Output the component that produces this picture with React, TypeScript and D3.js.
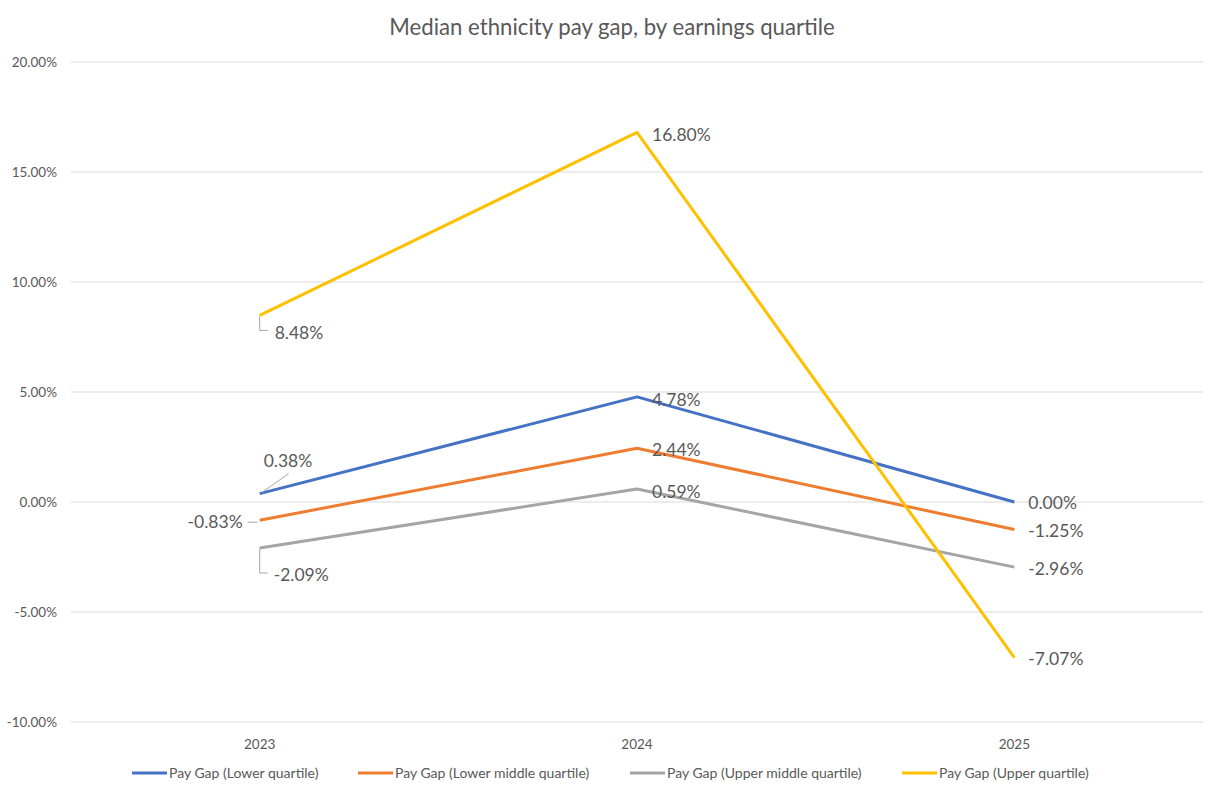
import React from "react";
import * as d3 from "d3";

const years = ["2023", "2024", "2025"];
const seriesNames = [
  "Pay Gap (Lower quartile)",
  "Pay Gap (Lower middle quartile)",
  "Pay Gap (Upper middle quartile)",
  "Pay Gap (Upper quartile)",
];
const lowerQuartile = [0.38, 4.78, 0.0];
const lowerMiddleQuartile = [-0.83, 2.44, -1.25];
const upperMiddleQuartile = [-2.09, 0.59, -2.96];
const upperQuartile = [8.48, 16.8, -7.07];
const yTicks = [-10, -5, 0, 5, 10, 15, 20];
const colors = ["#4472C4", "#ED7D31", "#A5A5A5", "#FFC000"];

const W = 1217;
const H = 791;
const left = 71;
const right = 1203;
const top = 62;
const bottom = 722;
const FONT = "Lato, 'Open Sans', sans-serif";
const TXT = "#595959";

const pct = (v: number) => (v < 0 ? "-" : "") + d3.format(".2f")(Math.abs(v)) + "%";

type Lab = { dx: number; dy: number; anchor: "start" | "end"; leader?: [number, number][] };
const labelStyles: Lab[][] = [
  [
    { dx: 4, dy: -33, anchor: "start", leader: [[2, -1], [29, -20]] },
    { dx: 15, dy: 3, anchor: "start" },
    { dx: 14, dy: 1, anchor: "start" },
  ],
  [
    { dx: -17, dy: 2, anchor: "end", leader: [[-12, 2], [-2, 2]] },
    { dx: 15, dy: 2, anchor: "start" },
    { dx: 14, dy: 1.5, anchor: "start" },
  ],
  [
    { dx: 14, dy: 27, anchor: "start", leader: [[0, 1], [0, 25], [8, 25]] },
    { dx: 15, dy: 3, anchor: "start" },
    { dx: 14, dy: 1.5, anchor: "start" },
  ],
  [
    { dx: 15, dy: 17, anchor: "start", leader: [[0, 1], [0, 15], [8, 15]] },
    { dx: 15, dy: 2, anchor: "start" },
    { dx: 14, dy: 1.5, anchor: "start" },
  ],
];

const legendX = [132, 358, 630, 902];

export default function App() {
  const allSeries = [lowerQuartile, lowerMiddleQuartile, upperMiddleQuartile, upperQuartile];
  const x = d3.scaleBand<string>().domain(years).range([left, right]);
  const y = d3.scaleLinear().domain([-10, 20]).range([bottom, top]);
  const cx = (yr: string) => (x(yr) ?? 0) + x.bandwidth() / 2;
  const line = d3
    .line<number>()
    .x((_, i) => cx(years[i]))
    .y((d) => y(d));

  return (
    <svg width={W} height={H} style={{ position: "absolute", left: 0, top: 0, background: "#fff" }}>
      <rect width={W} height={H} fill="#fff" />
      <text x={612} y={35} textAnchor="middle" fontFamily={FONT} fontSize={22.2} fill={TXT}>
        Median ethnicity pay gap, by earnings quartile
      </text>
      {yTicks.map((t) => (
        <g key={t}>
          <line x1={left} x2={right} y1={y(t)} y2={y(t)} stroke="#D9D9D9" strokeWidth={1} />
          <text x={57} y={y(t)} dy="0.35em" textAnchor="end" fontFamily={FONT} fontSize={13.5} fill={TXT}>
            {pct(t)}
          </text>
        </g>
      ))}
      {years.map((yr) => (
        <text key={yr} x={cx(yr)} y={744} dy="0.35em" textAnchor="middle" fontFamily={FONT} fontSize={13.5} fill={TXT}>
          {yr}
        </text>
      ))}
      {allSeries.map((s, si) => (
        <path key={si} d={line(s) ?? ""} fill="none" stroke={colors[si]} strokeWidth={3} strokeLinejoin="round" />
      ))}
      {allSeries.map((s, si) =>
        s.map((v, i) => {
          const px = cx(years[i]);
          const py = y(v);
          const st = labelStyles[si][i];
          return (
            <g key={si + "-" + i}>
              {st.leader && (
                <polyline
                  points={st.leader.map(([a, b]) => `${px + a},${py + b}`).join(" ")}
                  fill="none"
                  stroke="#A6A6A6"
                  strokeWidth={1}
                />
              )}
              <text
                x={px + st.dx}
                y={py + st.dy}
                dy="0.35em"
                textAnchor={st.anchor}
                fontFamily={FONT}
                fontSize={17.5}
                fill={TXT}
              >
                {pct(v)}
              </text>
            </g>
          );
        })
      )}
      {seriesNames.map((n, i) => (
        <g key={n}>
          <line x1={legendX[i]} x2={legendX[i] + 35} y1={773} y2={773} stroke={colors[i]} strokeWidth={3} />
          <text x={legendX[i] + 37} y={773} dy="0.35em" fontFamily={FONT} fontSize={14} fill={TXT}>
            {n}
          </text>
        </g>
      ))}
    </svg>
  );
}
